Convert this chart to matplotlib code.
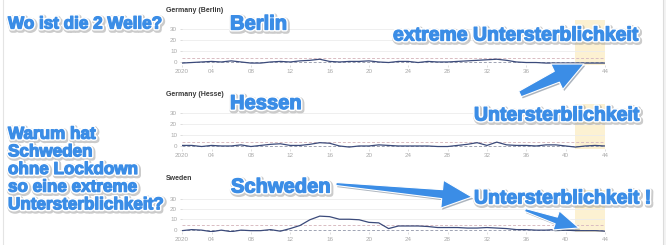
import numpy as np
import matplotlib
matplotlib.use('Agg')
from matplotlib import pyplot as plt
from matplotlib import patheffects as pe
from matplotlib.patches import Polygon

# weekly mortality z-scores 2020, week 1..44
weeks = list(range(1, 45))
berlin = [-1, -0.5, 0, 0.5, 0, 1, 0, -1, -1, 0, 0.5, 0, 1, 1.5, 2.5, 0.5, 0, 0.5, 0.5, 1,
          0, -0.5, 0.5, 0.5, -0.5, 0.5, 0, 0, 0.5, 1, 1.5, 2, 2.5, 1.5, 0, -0.5, -0.5, -1,
          -1, -1, -1, -1, -1, -1]
hesse = [0.5, 0.5, -0.5, 0.5, 0, 0, 1, -0.5, 0.5, 1.5, 2, 0.5, 0.5, 1.5, 3, 2.5, 0, -1,
         0, 0, 1, 0.5, 0, 0, 0, 0, -0.5, -0.5, 0.5, 1.5, 3, 0.5, 3.5, 1, 0.5, 0.5, 0, 1,
         1, 0, -1, 0, 0.5, 0]
sweden = [-1, 0, -0.5, -2, -0.5, -2, -0.5, -1, -1, 0, -1.5, 1, 4, 9.5, 13, 12.5, 10, 10,
          9.5, 7, 6.5, 1, 3.5, 3.5, 3.5, 3, 2, 2, 2, 1.5, 1.5, 2, 1.5, 1, 0, 0, -0.5, -0.5,
          0, -0.5, -1, -1, -1, -1.5]
titles = ['Germany (Berlin)', 'Germany (Hesse)', 'Sweden']
xtick_pos = [1, 4, 8, 12, 16, 20, 24, 28, 32, 36, 40, 44]
xtick_lab = ['2020', '04', '08', '12', '16', '20', '24', '28', '32', '36', '40', '44']
yticks = [0, 10, 20, 30]
highlight = (41, 44)

W, H = 666, 245
fig = plt.figure(figsize=(W / 100, H / 100), dpi=100)
fig.patch.set_facecolor('white')

# panel boxes in pixels: top, bottom
boxes = [(20, 64.5), (104, 148.5), (190, 232)]
title_y = [10, 94, 178]
x_left, x_right = 182, 605

for series, title, (top, bot), ty in zip([berlin, hesse, sweden], titles, boxes, title_y):
    ax = fig.add_axes([x_left / W, (H - bot) / H, (x_right - x_left) / W, (bot - top) / H])
    ax.set_xlim(1, 44)
    ax.set_ylim(-2.3, 38.2)
    for s in ax.spines.values():
        s.set_visible(False)
    ax.axvspan(*highlight, color='#fcf1d2', lw=0, zorder=0)
    for v in [10, 20, 30]:
        ax.axhline(v, color='#ececec', lw=0.6, zorder=1)
    ax.axhline(4, color='#d9bcc2', lw=0.7, ls=(0, (3, 2)), zorder=1)
    ax.axhline(0, color='#9ea3b3', lw=0.7, ls=(0, (3, 2)), zorder=1)
    ax.plot(weeks, series, color='#3b4a7a', lw=0.9, zorder=3)
    ax.set_xticks(xtick_pos)
    ax.set_xticklabels(xtick_lab)
    ax.set_yticks(yticks)
    ax.tick_params(labelsize=4.5, colors='#cfcfcf', labelcolor='#a8a8a8', length=1.5,
                   width=0.5, pad=2)
    for lab in ax.get_xticklabels() + ax.get_yticklabels():
        lab.set_family('Liberation Sans')
    fig.text(166 / W, 1 - ty / H, title, fontsize=5, fontweight='bold', color='#3a3a3a',
             family='Liberation Sans', va='center', ha='left')

# annotation layer in pixel coordinates
ov = fig.add_axes([0, 0, 1, 1], zorder=10)
ov.set_xlim(0, W)
ov.set_ylim(H, 0)
ov.axis('off')
ov.patch.set_alpha(0)

ov.axvline(663, color='#dcdcdc', lw=0.8)
ov.axvspan(663, W, color='#f3f3f3', lw=0)
ov.axvline(3, color='#e4e4e4', lw=0.8)

blue = '#3b8de6'
fx = [pe.Stroke(linewidth=4.2, foreground='#8c8c8c', alpha=0.45, offset=(0.8, -1.0)),
      pe.Stroke(linewidth=3.0, foreground='white'),
      pe.Stroke(linewidth=0.9, foreground=blue), pe.Normal()]


def label(x, y, s, size, ha='left'):
    ov.text(x, y, s, fontsize=size, fontweight='bold', color=blue, family='Liberation Sans',
            ha=ha, va='center', path_effects=fx, linespacing=1.22)


def arrow(x0, y0, x1, y1, w0, w1, hw, hl):
    p0 = np.array([x0, y0], float)
    tip = np.array([x1, y1], float)
    u = (tip - p0) / np.hypot(*(tip - p0))
    n = np.array([-u[1], u[0]])
    base = tip - u * hl
    pts = [p0 + n * w0 / 2, base + n * w1 / 2, base + n * hw / 2, tip,
           base - n * hw / 2, base - n * w1 / 2, p0 - n * w0 / 2]
    ov.add_patch(Polygon(pts, closed=True, facecolor=blue, edgecolor='white', lw=0.8,
                         joinstyle='round',
                         path_effects=[pe.SimplePatchShadow(offset=(1, -1.2), alpha=0.35),
                                       pe.Normal()]))


label(8, 24, 'Wo ist die 2 Welle?', 12.3)
label(230, 24, 'Berlin', 14.5)
label(393, 36, 'extreme Untersterblichkeit', 14)
label(230, 103.5, 'Hessen', 14.5)
label(474, 116, 'Untersterblichkeit', 14)
label(8, 169.5, 'Warum hat\nSchweden\nohne Lockdown\nso eine extreme\nUntersterblichkeit?', 12.3)
label(231, 187, 'Schweden', 14.5)
label(474, 199, 'Untersterblichkeit !', 14)

arrow(520, 94, 584, 64, 6, 12, 28, 30)
arrow(336, 184, 472, 197, 3, 9, 28, 30)
arrow(525, 210, 579, 228, 3, 7, 20, 24)

fig.savefig('out.png', dpi=100)
